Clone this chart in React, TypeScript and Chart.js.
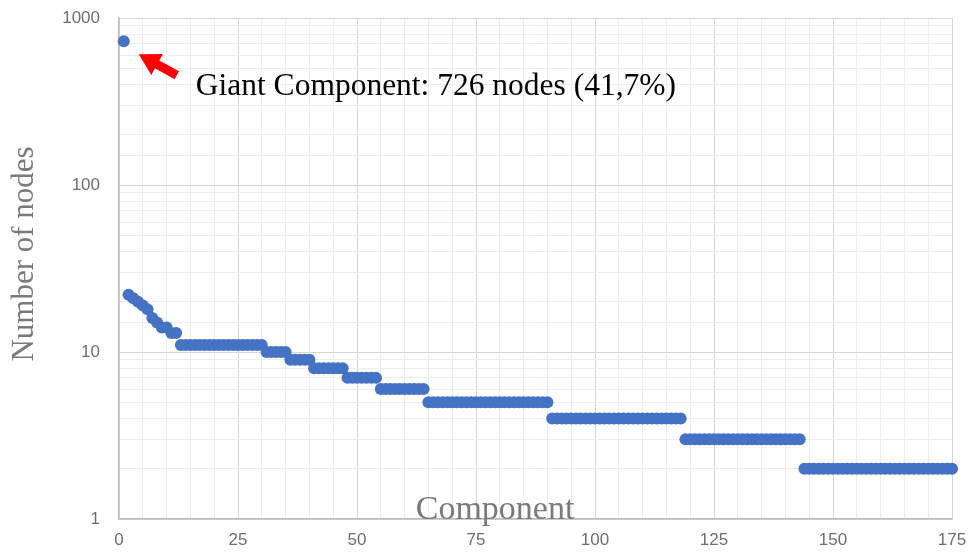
import React, { useEffect, useRef } from "react";
import { Chart, registerables } from "chart.js";
Chart.register(...registerables);

// Size (number of nodes) of each connected component, ranked from largest to smallest
const componentSizes = [
  726,
  22, 21, 20, 19, 18, 16, 15, 14, 14, 13, 13,
  11, 11, 11, 11, 11, 11, 11, 11, 11, 11, 11, 11, 11, 11, 11, 11, 11, 11,
  10, 10, 10, 10, 10,
  9, 9, 9, 9, 9,
  8, 8, 8, 8, 8, 8, 8,
  7, 7, 7, 7, 7, 7, 7,
  6, 6, 6, 6, 6, 6, 6, 6, 6, 6,
  5, 5, 5, 5, 5, 5, 5, 5, 5, 5, 5, 5, 5, 5, 5, 5, 5, 5, 5, 5, 5, 5, 5, 5, 5, 5,
  4, 4, 4, 4, 4, 4, 4, 4, 4, 4, 4, 4, 4, 4, 4, 4, 4, 4, 4, 4, 4, 4, 4, 4, 4, 4, 4, 4,
  3, 3, 3, 3, 3, 3, 3, 3, 3, 3, 3, 3, 3, 3, 3, 3, 3, 3, 3, 3, 3, 3, 3, 3, 3,
  2, 2, 2, 2, 2, 2, 2, 2, 2, 2, 2, 2, 2, 2, 2, 2, 2, 2, 2, 2, 2, 2, 2, 2, 2, 2, 2, 2, 2, 2, 2, 2,
];
const xTickLabels = [0, 25, 50, 75, 100, 125, 150, 175];
const yTickLabels = [1, 10, 100, 1000];
const xTitle = "Component";
const yTitle = "Number of nodes";
const annotationText = "Giant Component: 726 nodes (41,7%)";

const MAJOR_GRID = "#d6d6d6";
const MINOR_GRID = "#ededed";
const TICK_COLOR = "#6e6e6e";
const TITLE_COLOR = "#7a7a7a";
const POINT_COLOR = "#4472c4";

export default function App() {
  const ref = useRef<HTMLCanvasElement | null>(null);

  useEffect(() => {
    document.body.style.margin = "0";
    const points = componentSizes.map((v, i) => ({ x: i + 1, y: v }));

    const overlay = {
      id: "overlay",
      afterDraw(chart: any) {
        const ctx = chart.ctx as CanvasRenderingContext2D;
        const area = chart.chartArea;
        const xs = chart.scales.x;
        const ys = chart.scales.y;
        ctx.save();
        // Y axis title
        ctx.fillStyle = TITLE_COLOR;
        ctx.font = '31px "Liberation Serif", "DejaVu Serif", serif';
        ctx.textAlign = "center";
        ctx.textBaseline = "middle";
        ctx.translate(25, 254);
        ctx.rotate(-Math.PI / 2);
        ctx.fillText(yTitle, 0, 0);
        ctx.restore();

        ctx.save();
        // X axis title (sits inside the plot, just above the axis)
        ctx.fillStyle = TITLE_COLOR;
        ctx.font = '34px "Liberation Serif", "DejaVu Serif", serif';
        ctx.textAlign = "center";
        ctx.textBaseline = "middle";
        ctx.fillText(xTitle, xs.getPixelForValue(79), area.bottom - 9);
        ctx.restore();

        // Annotation arrow pointing at the giant component
        const px = xs.getPixelForValue(points[0].x);
        const py = ys.getPixelForValue(points[0].y);
        const tipX = px + 15;
        const tipY = py + 13;
        const tailX = px + 53;
        const tailY = py + 34;
        const ang = Math.atan2(tailY - tipY, tailX - tipX);
        const len = Math.hypot(tailX - tipX, tailY - tipY);
        ctx.save();
        ctx.translate(tipX, tipY);
        ctx.rotate(ang);
        ctx.fillStyle = "#ff0000";
        ctx.beginPath();
        const headLen = 21;
        const headW = 12;
        const shaftW = 4.5;
        ctx.moveTo(0, 0);
        ctx.lineTo(headLen, -headW);
        ctx.lineTo(headLen, -shaftW);
        ctx.lineTo(len, -shaftW);
        ctx.lineTo(len, shaftW);
        ctx.lineTo(headLen, shaftW);
        ctx.lineTo(headLen, headW);
        ctx.closePath();
        ctx.fill();
        ctx.restore();

        // Annotation text
        ctx.save();
        ctx.fillStyle = "#000000";
        ctx.font = '31.5px "Liberation Serif", "DejaVu Serif", serif';
        ctx.textAlign = "left";
        ctx.textBaseline = "middle";
        ctx.fillText(annotationText, px + 72, py + 46);
        ctx.restore();
      },
    };

    const isDecade = (v: number) => Math.abs(Math.log10(v) - Math.round(Math.log10(v))) < 1e-9;

    const chart = new Chart(ref.current as HTMLCanvasElement, {
      type: "scatter",
      data: {
        datasets: [
          {
            data: points,
            pointRadius: 6,
            pointHoverRadius: 6,
            backgroundColor: POINT_COLOR,
            borderColor: POINT_COLOR,
            borderWidth: 0,
            showLine: false,
            clip: false,
          },
        ],
      },
      options: {
        responsive: false,
        animation: false,
        events: [],
        layout: { autoPadding: false, padding: { top: 18, right: 22, left: 0, bottom: 0 } },
        plugins: { legend: { display: false }, tooltip: { enabled: false } },
        scales: {
          x: {
            type: "linear",
            min: 0,
            max: 175,
            afterFit: (s: any) => {
              s.height = 36;
              s.paddingLeft = 0;
              s.paddingRight = 0;
            },
            ticks: {
              stepSize: 5,
              autoSkip: false,
              maxRotation: 0,
              padding: 11,
              color: TICK_COLOR,
              font: { family: '"Liberation Sans", Arial, sans-serif', size: 17 },
              callback: (v: any) => (xTickLabels.includes(Number(v)) ? String(v) : ""),
            },
            grid: {
              drawTicks: false,
              color: (c: any) => (c.tick && c.tick.value % 25 === 0 ? MAJOR_GRID : MINOR_GRID),
              lineWidth: 1,
            },
            border: { color: "#bdbdbd", width: 1.5 },
          },
          y: {
            type: "logarithmic",
            min: 1,
            max: 1000,
            afterFit: (s: any) => {
              s.width = 119;
              s.paddingTop = 0;
              s.paddingBottom = 0;
            },
            ticks: {
              autoSkip: false,
              padding: 19,
              color: TICK_COLOR,
              font: { family: '"Liberation Sans", Arial, sans-serif', size: 17 },
              callback: (v: any) => (yTickLabels.includes(Number(v)) ? String(v) : ""),
            },
            grid: {
              drawTicks: false,
              color: (c: any) => (c.tick && isDecade(c.tick.value) ? MAJOR_GRID : MINOR_GRID),
              lineWidth: 1,
            },
            border: { color: "#bdbdbd", width: 1.5 },
          },
        },
      },
      plugins: [overlay],
    } as any);

    return () => chart.destroy();
  }, []);

  return (
    <div style={{ width: 974, height: 555, background: "#ffffff" }}>
      <canvas ref={ref} width={974} height={555} style={{ display: "block" }} />
    </div>
  );
}
